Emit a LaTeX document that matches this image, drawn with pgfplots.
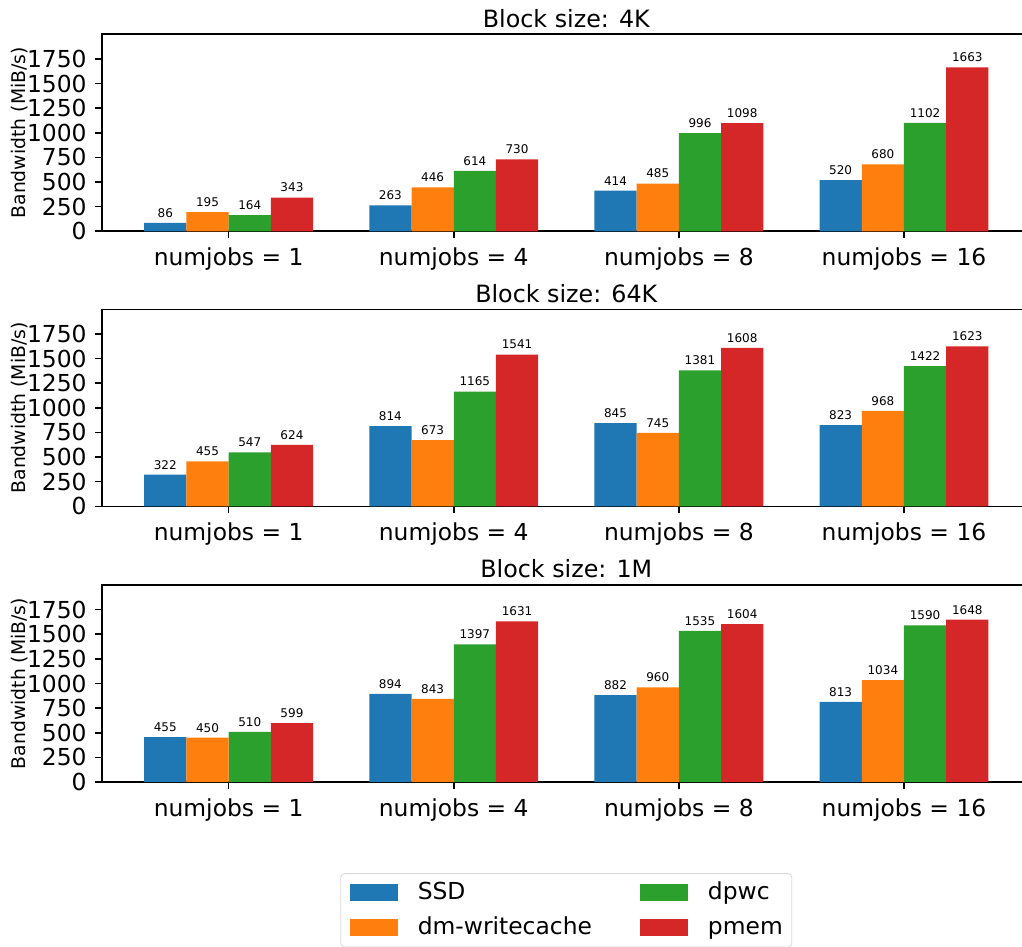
\documentclass[border=0pt]{standalone}
\usepackage{fontspec}
\setmainfont{DejaVu Sans}
\usepackage{pgfplots}
\usepackage{pgfplotstable}
\pgfplotsset{compat=1.18}

\definecolor{cssd}{HTML}{1F77B4}
\definecolor{cdm}{HTML}{FF7F0E}
\definecolor{cdpwc}{HTML}{2CA02C}
\definecolor{cpmem}{HTML}{D62728}

% bandwidth in MiB/s, one row per numjobs group (1, 4, 8, 16)
\pgfplotstableread{
g ssd dm dpwc pmem
0 86 195 164 343
1 263 446 614 730
2 414 485 996 1098
3 520 680 1102 1663
}\bsfourk

\pgfplotstableread{
g ssd dm dpwc pmem
0 322 455 547 624
1 814 673 1165 1541
2 845 745 1381 1608
3 823 968 1422 1623
}\bssixtyfourk

\pgfplotstableread{
g ssd dm dpwc pmem
0 455 450 510 599
1 894 843 1397 1631
2 882 960 1535 1604
3 813 1034 1590 1648
}\bsonem

\pgfplotsset{
  panel/.style={
    scale only axis, width=464.3pt, height=98.5pt,
    anchor=north west,
    xmin=-0.5625, xmax=3.5625, ymin=0, ymax=2000,
    xtick={0,1,2,3},
    xticklabels={{numjobs = 1},{numjobs = 4},{numjobs = 8},{numjobs = 16}},
    ytick={0,250,...,1750},
    tick pos=left, tick align=outside, major tick length=3.5pt,
    every tick/.style={black, line width=0.8pt},
    axis line style={black, line width=0.8pt},
    /pgf/number format/assume math mode=true,
    /pgf/number format/1000 sep={},
    scaled y ticks=false,
    tick label style={font=\fontsize{11.7}{14}\selectfont},
    xticklabel style={anchor=base, inner sep=0pt, yshift=-13.5pt},
    yticklabel style={anchor=east, inner sep=0pt, xshift=-4pt},
    ylabel={Bandwidth (MiB/s)},
    every axis y label/.style={at={([xshift=-41.15pt]axis description cs:0,0.5)},
      rotate=90, anchor=center, font=\fontsize{9.4}{11}\selectfont},
    every axis title/.style={at={(axis description cs:0.5,1)}, anchor=base,
      yshift=3.6pt, inner sep=0pt, font=\fontsize{11.9}{14}\selectfont},
    nodes near coords,
    every node near coord/.append style={font=\fontsize{6}{7}\selectfont,
      text=black, inner sep=0pt, anchor=south, yshift=2.5pt},
    legend image code/.code={\fill[##1, sharp corners] (0pt,-4.25pt) rectangle (24pt,4.25pt);},
  },
  bars/.style={ybar, bar width=0.1875, bar shift=0pt, draw=none},
  ssd/.style={bars, fill=cssd},
  dm/.style={bars, fill=cdm},
  dpwc/.style={bars, fill=cdpwc},
  pmem/.style={bars, fill=cpmem},
}

\begin{document}
\begin{tikzpicture}
\useasboundingbox (0,0) rectangle (511pt,-473.5pt);

\begin{axis}[panel, at={(51pt,-17.15pt)}, title={Block size: 4K}]
  \addplot[ssd] table[x expr=\thisrow{g}-0.28125, y=ssd] {\bsfourk};
  \addplot[dm] table[x expr=\thisrow{g}-0.09375, y=dm] {\bsfourk};
  \addplot[dpwc] table[x expr=\thisrow{g}+0.09375, y=dpwc] {\bsfourk};
  \addplot[pmem] table[x expr=\thisrow{g}+0.28125, y=pmem] {\bsfourk};
\end{axis}

\begin{axis}[panel, at={(51pt,-154.65pt)}, title={Block size: 64K}]
  \addplot[ssd] table[x expr=\thisrow{g}-0.28125, y=ssd] {\bssixtyfourk};
  \addplot[dm] table[x expr=\thisrow{g}-0.09375, y=dm] {\bssixtyfourk};
  \addplot[dpwc] table[x expr=\thisrow{g}+0.09375, y=dpwc] {\bssixtyfourk};
  \addplot[pmem] table[x expr=\thisrow{g}+0.28125, y=pmem] {\bssixtyfourk};
\end{axis}

\begin{axis}[panel, at={(51pt,-292.5pt)}, title={Block size: 1M},
  legend columns=2,
  legend cell align=left,
  legend style={at={(0.5,-0.463)}, anchor=north, draw=black!15,
    rounded corners=2pt, font=\fontsize{11.7}{14}\selectfont,
    inner xsep=4.5pt, inner ysep=3.85pt,
    nodes={inner sep=0pt, text height=9pt, text depth=2.5pt},
    row sep=6pt,
    /tikz/every odd column/.append style={column sep=10pt},
    /tikz/every even column/.append style={column sep=24pt}},
]
  \addplot[ssd] table[x expr=\thisrow{g}-0.28125, y=ssd] {\bsonem};
  \addlegendentry{SSD}
  \addplot[dpwc] table[x expr=\thisrow{g}+0.09375, y=dpwc] {\bsonem};
  \addlegendentry{dpwc}
  \addplot[dm] table[x expr=\thisrow{g}-0.09375, y=dm] {\bsonem};
  \addlegendentry{dm-writecache}
  \addplot[pmem] table[x expr=\thisrow{g}+0.28125, y=pmem] {\bsonem};
  \addlegendentry{pmem}
\end{axis}
\end{tikzpicture}
\end{document}
